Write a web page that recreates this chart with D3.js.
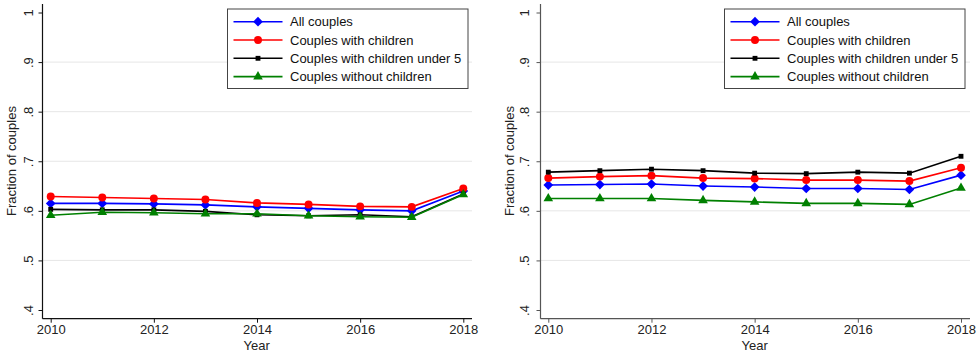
<!DOCTYPE html>
<html>
<head>
<meta charset="utf-8">
<script src="https://cdn.jsdelivr.net/npm/d3@7"></script>
<style>
  html, body { margin: 0; padding: 0; background: #fff; }
  svg { display: block; font-family: "Liberation Sans", Arial, Helvetica, sans-serif; }
</style>
</head>
<body>
<svg id="chart" width="979" height="356"></svg>
<script>
// Survey years and y-axis ticks
const years = [2010, 2011, 2012, 2013, 2014, 2015, 2016, 2017, 2018];
const xTicks = [2010, 2012, 2014, 2016, 2018];
const yTicks = [0.4, 0.5, 0.6, 0.7, 0.8, 0.9, 1];
const seriesNames = ["All couples", "Couples with children", "Couples with children under 5", "Couples without children"];

// Left panel: fraction of couples by group
const leftAll        = [0.615, 0.615, 0.614, 0.612, 0.608, 0.605, 0.602, 0.600, 0.640];
const leftChildren   = [0.629, 0.627, 0.625, 0.623, 0.616, 0.613, 0.609, 0.608, 0.645];
const leftUnder5     = [0.603, 0.602, 0.602, 0.599, 0.592, 0.590, 0.592, 0.588, 0.634];
const leftNoChildren = [0.591, 0.597, 0.596, 0.594, 0.594, 0.590, 0.588, 0.587, 0.633];

// Right panel: fraction of couples by group
const rightAll        = [0.652, 0.653, 0.654, 0.650, 0.648, 0.645, 0.645, 0.643, 0.672];
const rightChildren   = [0.666, 0.669, 0.671, 0.666, 0.665, 0.662, 0.662, 0.660, 0.687];
const rightUnder5     = [0.678, 0.681, 0.684, 0.681, 0.676, 0.675, 0.678, 0.676, 0.710];
const rightNoChildren = [0.625, 0.625, 0.625, 0.621, 0.618, 0.615, 0.615, 0.613, 0.646];

const styles = [
  { color: "#0000ff", symbol: d3.symbolDiamond2, size: 60 },
  { color: "#ff0000", symbol: d3.symbolCircle, size: 50 },
  { color: "#000000", symbol: d3.symbolSquare2, size: 30 },
  { color: "#008000", symbol: d3.symbolTriangle, size: 40 }
];

const svg = d3.select("#chart");

function drawPanel(cfg) {
  const g = svg.append("g");
  const x = d3.scaleLinear().domain([2010, 2018]).range([cfg.x0, cfg.x1]);
  const y = d3.scaleLinear().domain([0.4, 1]).range([310, 12.5]);
  const axisX = cfg.axisX, right = cfg.right, bottom = 318.7, top = 4;

  // horizontal gridlines
  g.selectAll("line.grid").data(yTicks.filter(t => t > 0.45 && t < 0.95))
    .join("line").attr("class", "grid")
    .attr("x1", axisX).attr("x2", right)
    .attr("y1", d => y(d)).attr("y2", d => y(d))
    .attr("stroke", "#e6e6e6").attr("stroke-width", 1);

  // y axis
  const yAxis = g.append("g").attr("transform", `translate(${axisX},0)`)
    .call(d3.axisLeft(y).tickValues(yTicks).tickSize(4)
      .tickFormat(d => d === 1 ? "1" : d3.format(".1f")(d).replace(/^0/, "")));
  yAxis.select(".domain").attr("d", `M0,${top}V${bottom}`).attr("stroke", cfg.axisColor).attr("stroke-width", 1.2);
  yAxis.selectAll(".tick line").attr("stroke", cfg.axisColor);
  yAxis.selectAll(".tick text")
    .attr("transform", "rotate(-90)")
    .attr("x", 0).attr("y", -cfg.tickGap).attr("dy", 0)
    .attr("text-anchor", "middle")
    .attr("fill", "#222").style("font-size", "13px");

  // x axis
  const xAxis = g.append("g").attr("transform", `translate(0,${bottom})`)
    .call(d3.axisBottom(x).tickValues(xTicks).tickSize(4).tickFormat(d3.format("d")));
  xAxis.select(".domain").attr("d", `M${axisX},0H${right}`).attr("stroke", cfg.axisColor).attr("stroke-width", 1.2);
  xAxis.selectAll(".tick line").attr("stroke", cfg.axisColor);
  xAxis.selectAll(".tick text").attr("y", 6).attr("dy", "0.71em")
    .attr("fill", "#222").style("font-size", "13px");

  // axis titles
  g.append("text").attr("x", (cfg.axisX + cfg.right) / 2 - 0.5).attr("y", 350)
    .attr("text-anchor", "middle").attr("fill", "#222").style("font-size", "13px").text("Year");
  g.append("text").attr("transform", `translate(${cfg.axisX - cfg.titleGap},${161}) rotate(-90)`)
    .attr("text-anchor", "middle").attr("fill", "#222").style("font-size", "13px")
    .text("Fraction of couples");

  // series lines and markers
  const line = d3.line().x((d, i) => x(years[i])).y(d => y(d));
  cfg.series.forEach((vals, k) => {
    const s = styles[k];
    g.append("path").datum(vals).attr("d", line)
      .attr("fill", "none").attr("stroke", s.color).attr("stroke-width", 1.6);
    g.selectAll(null).data(vals).join("path")
      .attr("transform", (d, i) => `translate(${x(years[i])},${y(d)})`)
      .attr("d", d3.symbol().type(s.symbol).size(s.size))
      .attr("fill", s.color);
  });

  // legend
  const lg = g.append("g").attr("transform", `translate(${cfg.legendX},9)`);
  lg.append("rect").attr("width", 240.5).attr("height", 79.5)
    .attr("fill", "#fff").attr("stroke", "#444").attr("stroke-width", 1);
  seriesNames.forEach((name, k) => {
    const s = styles[k];
    const ry = 12.7 + k * 18.3;
    lg.append("line").attr("x1", 6).attr("x2", 55).attr("y1", ry).attr("y2", ry)
      .attr("stroke", s.color).attr("stroke-width", 1.6);
    lg.append("path").attr("transform", `translate(30.5,${ry})`)
      .attr("d", d3.symbol().type(s.symbol).size(s.size)).attr("fill", s.color);
    lg.append("text").attr("x", 62.5).attr("y", ry).attr("dy", "0.35em")
      .attr("fill", "#111").style("font-size", "13px").text(name);
  });
}

drawPanel({
  axisX: 42.5, right: 472, x0: 50.7, x1: 463.3, legendX: 227.5, axisColor: "#111",
  tickGap: 10, titleGap: 27,
  series: [leftAll, leftChildren, leftUnder5, leftNoChildren]
});
drawPanel({
  axisX: 540.5, right: 970, x0: 548.3, x1: 961, legendX: 724.5, axisColor: "#555",
  tickGap: 12, titleGap: 27,
  series: [rightAll, rightChildren, rightUnder5, rightNoChildren]
});
</script>
</body>
</html>
